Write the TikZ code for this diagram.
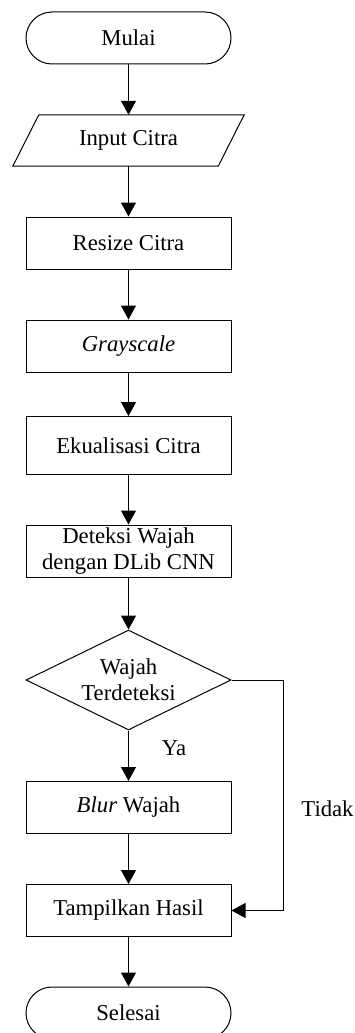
\documentclass[tikz,border=0pt]{standalone}
\usepackage{fontspec}
\setmainfont{Liberation Serif}
\usetikzlibrary{shapes.geometric,arrows.meta}
\begin{document}
\begin{tikzpicture}[x=1pt,y=-1pt,
  every node/.style={font=\fontsize{22.7}{26}\selectfont, align=center},
  proc/.style={draw, line width=1pt, minimum width=205pt, minimum height=52pt, inner sep=0pt},
  term/.style={draw, line width=1pt, minimum width=205pt, minimum height=52pt, inner sep=0pt, rounded corners=26pt},
  ghost/.style={minimum width=205pt, minimum height=51pt, inner sep=0pt},
  dec/.style={draw, line width=1pt, diamond, aspect=2, minimum width=205pt, minimum height=100pt, inner sep=0pt},
  arr/.style={line width=1pt, -{Triangle[length=14pt,width=15pt]}},
  lbl/.style={inner sep=0pt}
]
\useasboundingbox (0,0) rectangle (355,1033);
\node[term] (mulai) at (128.5,38) {Mulai};
\node[ghost] (input) at (128.5,140.5) {Input Citra};
\draw[line width=1pt] ([xshift=13pt]input.north west) -- ([xshift=13pt]input.north east)
  -- ([xshift=-13pt]input.south east) -- ([xshift=-13pt]input.south west) -- cycle;
\node[proc] (resize) at (128.5,243) {Resize Citra};
\node[proc] (gray) at (128.5,346) {\textit{Grayscale}};
\node[proc, minimum height=58pt] (eq) at (128.5,445.5) {Ekualisasi Citra};
\node[proc] (det) at (128.5,551) {Deteksi Wajah\\dengan DLib CNN};
\node[dec] (dw) at (128.5,680) {Wajah\\Terdeteksi};
\node[proc] (blur) at (128.5,807.5) {\textit{Blur} Wajah};
\node[proc] (hasil) at (128.5,910.5) {Tampilkan Hasil};
\node[term] (sel) at (128.5,1013) {Selesai};
\coordinate (c1) at (283,680);
\coordinate (c2) at (283,910.5);
\draw[arr] (mulai) -- (input.north);
\draw[arr] (input.south) -- (resize);
\draw[arr] (resize) -- (gray);
\draw[arr] (gray) -- (eq);
\draw[arr] (eq) -- (det);
\draw[arr] (det) -- (dw);
\draw[arr] (dw) -- (blur);
\draw[arr] (blur) -- (hasil);
\draw[arr] (hasil) -- (sel);
\draw[line width=1pt] (dw.east) -- (c1) -- (c2);
\draw[arr] (c2) -- (hasil.east);
\node[lbl] (ya) at (174,748) {Ya};
\node[lbl] (tidak) at (327.5,809) {Tidak};
\end{tikzpicture}
\end{document}
